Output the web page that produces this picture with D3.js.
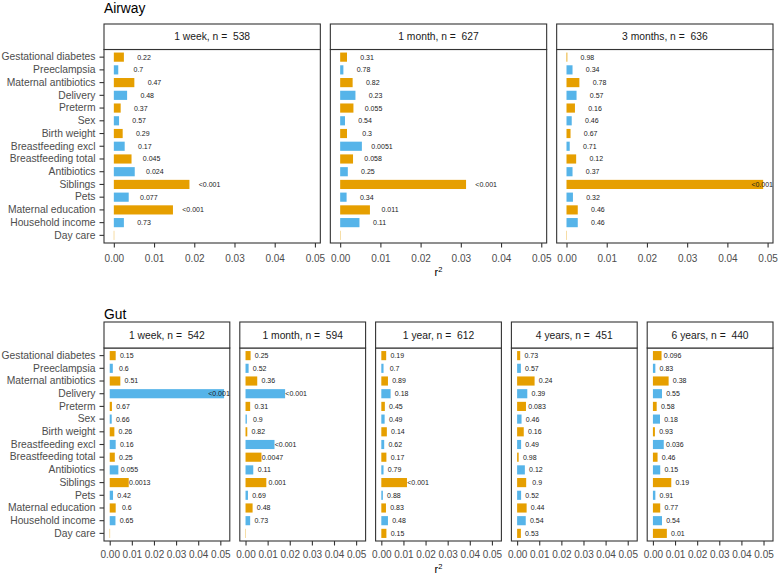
<!DOCTYPE html>
<html>
<head>
<meta charset="utf-8">
<script src="https://cdn.jsdelivr.net/npm/d3@7"></script>
<style>
  html, body { margin: 0; padding: 0; background: #fff; }
  svg { display: block; font-family: "Liberation Sans", Arial, Helvetica, sans-serif; }
  .strip text { white-space: pre; }
</style>
</head>
<body>
<svg id="chart" width="780" height="575"></svg>
<script>
// ---------------- DATA ----------------
const categories = ["Gestational diabetes", "Preeclampsia", "Maternal antibiotics", "Delivery", "Preterm", "Sex",
  "Birth weight", "Breastfeeding excl", "Breastfeeding total", "Antibiotics", "Siblings", "Pets",
  "Maternal education", "Household income", "Day care"];

const xTicks = [0, 0.01, 0.02, 0.03, 0.04, 0.05];
const barColors = ["#E69F00", "#56B4E9"];

// Airway
const airwayStrips = ["1 week, n =  538", "1 month, n =  627", "3 months, n =  636"];
const airway1wR2 = [0.0025, 0.0011, 0.0051, 0.0033, 0.0017, 0.0013, 0.0022, 0.0027, 0.0044, 0.0052, 0.0188, 0.0037, 0.0147, 0.0025, 0];
const airway1wP  = ["0.22", "0.7", "0.47", "0.48", "0.37", "0.57", "0.29", "0.17", "0.045", "0.024", "<0.001", "0.077", "<0.001", "0.73", ""];
const airway1mR2 = [0.0017, 0.0008, 0.0031, 0.0038, 0.0033, 0.0012, 0.0017, 0.0054, 0.0032, 0.0019, 0.0313, 0.0016, 0.0074, 0.0048, 0];
const airway1mP  = ["0.31", "0.78", "0.82", "0.23", "0.055", "0.54", "0.3", "0.0051", "0.058", "0.25", "<0.001", "0.34", "0.011", "0.11", ""];
const airway3mR2 = [0.0002, 0.0015, 0.0032, 0.0025, 0.0021, 0.0013, 0.0010, 0.0008, 0.0024, 0.0015, 0.0489, 0.0016, 0.0028, 0.0028, 0];
const airway3mP  = ["0.98", "0.34", "0.78", "0.57", "0.16", "0.46", "0.67", "0.71", "0.12", "0.37", "<0.001", "0.32", "0.46", "0.46", ""];

// Gut
const gutStrips = ["1 week, n =  542", "1 month, n =  594", "1 year, n =  612", "4 years, n =  451", "6 years, n =  440"];
const gut1wR2 = [0.0027, 0.0014, 0.0048, 0.0517, 0.0010, 0.0009, 0.0021, 0.0027, 0.0023, 0.0039, 0.0086, 0.0015, 0.0027, 0.0026, 0];
const gut1wP  = ["0.15", "0.6", "0.51", "<0.001", "0.67", "0.66", "0.26", "0.16", "0.25", "0.055", "0.0013", "0.42", "0.6", "0.65", ""];
const gut1mR2 = [0.0023, 0.0014, 0.0053, 0.0179, 0.0021, 0.0006, 0.0008, 0.0131, 0.0072, 0.0035, 0.0094, 0.0011, 0.0032, 0.0021, 0];
const gut1mP  = ["0.25", "0.52", "0.36", "<0.001", "0.31", "0.9", "0.82", "<0.001", "0.0047", "0.11", "0.001", "0.69", "0.48", "0.73", ""];
const gut1yR2 = [0.0022, 0.0010, 0.0030, 0.0042, 0.0016, 0.0015, 0.0025, 0.0013, 0.0023, 0.0010, 0.0116, 0.0007, 0.0021, 0.0030, 0.0023];
const gut1yP  = ["0.19", "0.7", "0.89", "0.18", "0.45", "0.49", "0.14", "0.62", "0.17", "0.79", "<0.001", "0.88", "0.83", "0.48", "0.15"];
const gut4yR2 = [0.0014, 0.0017, 0.0079, 0.0046, 0.0040, 0.0020, 0.0030, 0.0018, 0.0007, 0.0035, 0.0041, 0.0018, 0.0043, 0.0039, 0.0017];
const gut4yP  = ["0.73", "0.57", "0.24", "0.39", "0.083", "0.46", "0.16", "0.49", "0.98", "0.12", "0.9", "0.52", "0.44", "0.54", "0.53"];
const gut6yR2 = [0.0039, 0.0011, 0.0071, 0.0041, 0.0017, 0.0032, 0.0009, 0.0049, 0.0021, 0.0033, 0.0083, 0.0011, 0.0033, 0.0041, 0.0063];
const gut6yP  = ["0.096", "0.83", "0.38", "0.55", "0.58", "0.18", "0.93", "0.036", "0.46", "0.15", "0.19", "0.91", "0.77", "0.54", "0.01"];

const labelNudge = 0.005;

// ---------------- DRAW ----------------
const svg = d3.select("#chart");
const FONT_AXIS = "#4D4D4D";
const BORDER = "#333333";

function drawGroup(cfg) {
  const { title, titleY, strips, r2s, ps, left, right, gap, stripTop, stripH, bottom, tickBaseline, xTitleBaseline } = cfg;
  const n = strips.length;
  const pw = (right - left - gap * (n - 1)) / n;
  const allVals = r2s.flat();
  const maxV = d3.max(allVals);
  const x = d3.scaleLinear().domain([-0.05 * maxV, 1.05 * maxV]).range([0, pw]);
  const panelTop = stripTop + stripH;
  const y = d3.scaleBand().domain(categories).range([panelTop, bottom]).paddingInner(0.28).paddingOuter(0.24);

  // title
  svg.append("text").attr("x", left).attr("y", titleY).attr("font-size", 13.8).attr("fill", "#000").text(title);

  // y axis (left only)
  const yAxis = d3.axisLeft(y).tickSize(4.5).tickPadding(4);
  const gy = svg.append("g").attr("transform", `translate(${left},0)`).call(yAxis);
  gy.select(".domain").remove();
  gy.selectAll(".tick line").attr("stroke", BORDER).attr("stroke-width", 1.1);
  gy.selectAll(".tick text").attr("font-size", 10.3).attr("fill", FONT_AXIS).attr("font-family", "Liberation Sans, Arial, sans-serif");

  strips.forEach((s, k) => {
    const px = left + k * (pw + gap);
    const g = svg.append("g").attr("transform", `translate(${px},0)`);
    // bars
    const data = categories.map((c, i) => ({ c, i, v: r2s[k][i], p: ps[k][i] }));
    g.selectAll("rect.bar").data(data).join("rect")
      .attr("class", "bar")
      .attr("x", x(0))
      .attr("y", d => y(d.c))
      .attr("width", d => Math.max(0.35, x(d.v) - x(0)))
      .attr("height", y.bandwidth())
      .attr("fill", d => barColors[d.i % 2]);
    // labels
    const lab = g.selectAll("text.lab").data(data.filter(d => d.p !== "")).join("text")
      .attr("class", "lab")
      .attr("y", d => y(d.c) + y.bandwidth() / 2)
      .attr("dy", "0.35em")
      .attr("font-size", 7)
      .attr("fill", "#1a1a1a")
      .text(d => d.p);
    lab.each(function (d) {
      const w = this.getComputedTextLength();
      const cx = x(d.v + labelNudge);
      if (cx + w / 2 > pw) {
        d3.select(this).attr("x", pw).attr("text-anchor", "end");
      } else {
        d3.select(this).attr("x", cx).attr("text-anchor", "middle");
      }
    });
    // panel border
    g.append("rect").attr("x", 0).attr("y", panelTop).attr("width", pw).attr("height", bottom - panelTop)
      .attr("fill", "none").attr("stroke", BORDER).attr("stroke-width", 1.1);
    // strip
    const st = g.append("g").attr("class", "strip");
    st.append("rect").attr("x", 0).attr("y", stripTop).attr("width", pw).attr("height", stripH)
      .attr("fill", "#fff").attr("stroke", BORDER).attr("stroke-width", 1.1);
    st.append("text").attr("x", pw / 2).attr("y", stripTop + stripH / 2).attr("dy", "0.35em")
      .attr("text-anchor", "middle").attr("font-size", 10.3).attr("fill", "#1A1A1A").text(s);
    // x axis
    const xAxis = d3.axisBottom(x).tickValues(xTicks).tickFormat(d3.format(".2f")).tickSize(4.5).tickPadding(2);
    const gx = g.append("g").attr("transform", `translate(0,${bottom})`).call(xAxis);
    gx.select(".domain").remove();
    gx.selectAll(".tick line").attr("stroke", BORDER).attr("stroke-width", 1.1);
    gx.selectAll(".tick text").attr("font-size", 10).attr("fill", FONT_AXIS)
      .attr("font-family", "Liberation Sans, Arial, sans-serif")
      .attr("dy", null).attr("y", tickBaseline - bottom);
  });

  // x title r²
  const xt = svg.append("text").attr("x", (left + right) / 2).attr("y", xTitleBaseline)
    .attr("text-anchor", "middle").attr("font-size", 11).attr("fill", "#000");
  xt.append("tspan").text("r");
  xt.append("tspan").attr("font-size", 7.5).attr("dy", -4.5).text("2");
}

drawGroup({
  title: "Airway", titleY: 13, strips: airwayStrips,
  r2s: [airway1wR2, airway1mR2, airway3mR2], ps: [airway1wP, airway1mP, airway3mP],
  left: 104, right: 773, gap: 10, stripTop: 24, stripH: 25.5, bottom: 243,
  tickBaseline: 261.5, xTitleBaseline: 276
});

drawGroup({
  title: "Gut", titleY: 319, strips: gutStrips,
  r2s: [gut1wR2, gut1mR2, gut1yR2, gut4yR2, gut6yR2], ps: [gut1wP, gut1mP, gut1yP, gut4yP, gut6yP],
  left: 104, right: 773, gap: 10, stripTop: 322, stripH: 26, bottom: 541,
  tickBaseline: 557.7, xTitleBaseline: 573
});
</script>
</body>
</html>
